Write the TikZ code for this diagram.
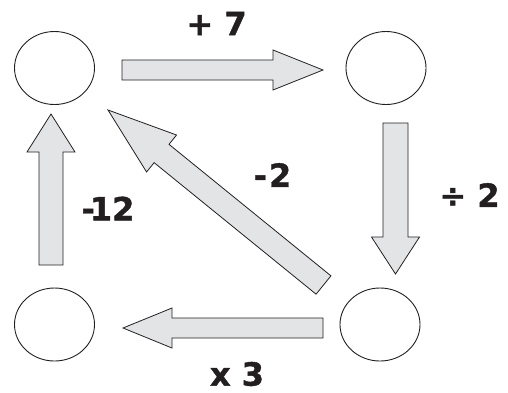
\documentclass[tikz,border=0pt]{standalone}
\usepackage{fontspec}
\setmainfont{DejaVu Sans}
\newfontfamily\lblfont[FakeBold=1.2]{DejaVu Sans Bold}
\usetikzlibrary{calc,shapes.geometric}
\definecolor{afill}{HTML}{E3E4E6}
\definecolor{inkc}{HTML}{231F20}
\tikzset{
  circ/.style={draw=inkc,line width=0.9pt,ellipse,minimum width=80pt,minimum height=73pt,inner sep=0pt},
  arrowbox/.style={draw=inkc,fill=afill,line width=0.8pt,line join=miter},
  lbl/.style={text=inkc,font=\lblfont\fontsize{32}{38}\selectfont,inner sep=0pt}
}
% #1 tail, #2 tip, #3 half shaft width, #4 half head width, #5 head length
\newcommand\blockarr[5]{%
  \coordinate (hb) at ($(#2)!#5!(#1)$);
  \draw[arrowbox] ($(#1)!#3!90:(#2)$) -- ($(hb)!#3!90:(#2)$) -- ($(hb)!#4!90:(#2)$)
    -- (#2) -- ($(hb)!#4!-90:(#2)$) -- ($(hb)!#3!-90:(#2)$) -- ($(#1)!#3!-90:(#2)$) -- cycle;
}
\begin{document}
\begin{tikzpicture}[x=1pt,y=-1pt]
\useasboundingbox (0,0) rectangle (508,392);
% circles
\node[circ] (tl) at (54.5,68) {};
\node[circ] (tr) at (386,68) {};
\node[circ] (bl) at (54.5,324.5) {};
\node[circ] (br) at (380,324.5) {};
% arrow end points
\coordinate (a1s) at (122,70);   \coordinate (a1e) at (323,70);
\coordinate (a2s) at (395.5,123); \coordinate (a2e) at (395.5,274);
\coordinate (a3s) at (323,328);  \coordinate (a3e) at (123,328);
\coordinate (a4s) at (51,265);   \coordinate (a4e) at (51,114);
\coordinate (a5s) at (323.5,285); \coordinate (a5e) at (108,110);
\blockarr{a1s}{a1e}{10pt}{20pt}{50pt}
\blockarr{a2s}{a2e}{12.5pt}{24pt}{37pt}
\blockarr{a3s}{a3e}{10pt}{20pt}{49pt}
\blockarr{a4s}{a4e}{12pt}{24pt}{38pt}
\blockarr{a5s}{a5e}{11.8pt}{23.8pt}{69pt}
% labels
\node[lbl] (l1) at (216.5,23.5) {+ 7};
\node[lbl] (l2) at (469.5,195) {÷ 2};
\node[lbl] (l3) at (237,374) {x 3};
\node[lbl] (l4) at (108,208.5) {-\kern-5pt12};
\node[lbl] (l5) at (272.5,175) {-\kern2pt2};
\end{tikzpicture}
\end{document}
